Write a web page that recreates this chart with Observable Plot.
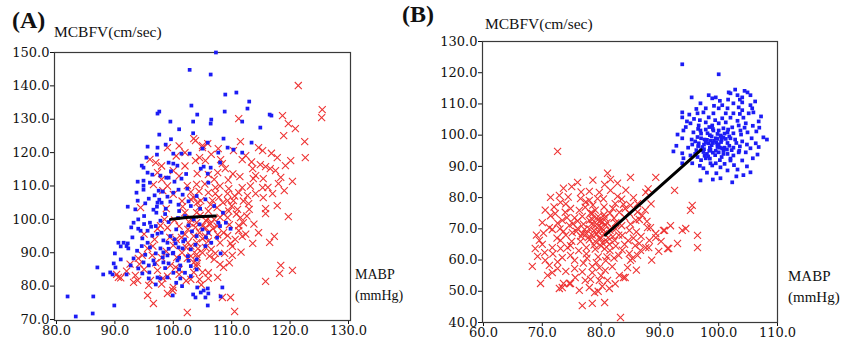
<!DOCTYPE html>
<html>
<head>
<meta charset="utf-8">
<script src="https://cdn.jsdelivr.net/npm/d3@7"></script>
<script src="https://cdn.jsdelivr.net/npm/@observablehq/plot@0.6"></script>
<style>
  html, body { margin: 0; padding: 0; background: #fff; }
  #wrap { position: relative; width: 852px; height: 349px; overflow: hidden; background: #fff; }
  #wrap > div.plot { position: absolute; top: 0; }
  #wrap svg, #wrap svg text { font-family: "DejaVu Serif", serif !important; }
  .lbl { position: absolute; font-family: "Liberation Serif", "DejaVu Serif", serif; color: #111; white-space: nowrap; line-height: 1; }
  .panel { font-weight: bold; font-size: 24px; }
</style>
</head>
<body>
<div id="wrap">
  <div class="plot" id="plotA" style="left:0px"></div>
  <div class="plot" id="plotB" style="left:430px"></div>
  <div class="lbl panel" style="left:12px; top:8px">(A)</div>
  <div class="lbl" style="left:54px; top:24px; font-size:15.5px">MCBFV(cm/sec)</div>
  <div class="lbl" style="left:355px; top:268px; font-size:14px">MABP</div>
  <div class="lbl" style="left:355px; top:289px; font-size:14px">(mmHg)</div>
  <div class="lbl panel" style="left:402px; top:2px">(B)</div>
  <div class="lbl" style="left:485px; top:16px; font-size:15.5px">MCBFV(cm/sec)</div>
  <div class="lbl" style="left:788px; top:269px; font-size:15px">MABP</div>
  <div class="lbl" style="left:788px; top:290px; font-size:15px">(mmHg)</div>
</div>
<script>
// ---------- tick values ----------
const xTicksA = [80, 90, 100, 110, 120, 130];
const yTicksA = [70, 80, 90, 100, 110, 120, 130, 140, 150];
const xTicksB = [60, 70, 80, 90, 100, 110];
const yTicksB = [40, 50, 60, 70, 80, 90, 100, 110, 120, 130];

// ---------- Panel A: [MABP, MCBFV] ----------
const blueA = [
[107.3,150],[102.8,144.8],[106.4,143.4],[103.1,134.1],[108.9,137.4],[110.8,138],[113,135.3],[112.7,133.2],[97.3,131.7],[97.6,132.3],[99.5,129.3],[104.1,131.4],[103.4,129.3],[106.5,129.9],[106.4,128.7],[108.8,132.3],[111.8,129.3],[114.9,127.5],[116.5,131.4],[116.8,131.1],
[97.6,125.4],[95.6,121.8],[97.3,121.5],[98.7,122.4],[100,119.7],[101.4,119.7],[102.8,119.7],[95.4,118.5],[108.6,124.2],[109.3,121.5],[110.3,120.9],[113.4,123],[94.6,116.1],[94.9,115.5],[99.2,117],[100,116.7],[100.7,116.1],[105.2,115.8],[106.4,115.5],[107.7,120],[108,117],[111.8,120],[105,121.2],[105.9,123],[104.7,115.2],[105.9,113.7],
[95.6,114],[96.4,113.4],[94.9,111.6],[94.9,110.1],[94.9,108.9],[93.9,111.3],[97.8,113.1],[98.8,112.5],[99.2,112.5],[100.2,111.3],[101.4,112.2],[93.7,108],[97.5,108.6],[98.2,108.3],[100,108],[100.9,108.9],[102.4,109.2],[93.9,105.6],[95.8,106.2],[97.3,105],[97.6,105.9],[99.5,105.3],[100.9,104.4],[92.2,103.8],[96.6,102.9],[97.1,102],[98.7,103.2],[106,111],[104,107],[103,104],[105.5,106],[107,104],[108.5,102],[109,99],[108,98],
[93.2,99],[94,97.2],[94.4,96.6],[90.6,93],[91,91.9],[92.2,92.8],[92.3,91.3],[94.7,94.3],[95.6,93],[95.6,96.6],[96.4,95.1],[97.3,95.7],[98.3,93.7],[97.8,91.3],[98.3,90.1],[99,89.2],[99.9,89.8],[98.2,88.6],[100.4,92.8],[100.9,91.6],[101.6,91.3],[101.7,93.4],[98.3,87.1],[99.2,86.8],[100.7,87.7],[101.2,86.2],[96.6,87.7],[94.9,87.1],[95.8,86.2],[93.2,88.3],[92.7,86.2],[89.8,86.8],[90.1,85.6],[87,85.6],[88,83.5],[89.2,84.1],[89.6,83.5],[92,83.5],[94,85.3],[94.7,83.8],[95.9,84.1],[97.3,82.6],[97.8,82.3],[99,82.6],[101.2,82.3],[95.8,82.3],
[99.5,95],[100.5,97],[101.5,96],[102,94],[100,90],[101,88.5],[102.5,89],[103,91],[99,93],[98,96],[104,95],[105,97],[106,96],[104.5,98.5],[103.5,100],[102,101],[101,102.5],[106.5,93],[107.5,94.5],[105.5,92],[104,88],[103,86],[102,84],[101,85],[96,99],[97,98],[95,101],[94,100],[93.5,103],[92,92],[91.5,93],[100.5,81],[101.5,80],[103,83],[104,85],[97,80.5],[99.9,77.2],
[96.2,97.8],[97.8,99.6],[99.2,99.2],[100.8,100.4],[98.6,101.6],[97.2,103.8],[95.2,104.8],[96.8,107.2],[99,106.8],[101.6,107.4],[102.6,105.4],[104.6,103.2],[102.6,98.2],[100.2,94],[99.2,91.2],[97,89.8],[95.2,89.4],[93.8,90.6],[93,94.6],[96,91.6],[98.6,85.4],[100,84],[102.6,87.6],[103.8,92.4],[105.6,94.6],[94.6,92],[96.8,86.6],[91,88],[90,89.8],[92.8,97.6],[95,98.6],[103.2,96.4],[98,105],[96,111],[99.6,114.4],[102.2,113.6],[97.2,119.4],[99.6,124],[103.4,125.8],[101,127],
[81.9,76.9],[86.3,76.9],[83.3,70.9],[86.2,71.8],[89.9,74.2],[104.1,79.6],[104.7,78.1],[105.2,78.7],[105.9,79.3],[106,77.8],[105.5,76.6],[103.8,76.6],[105.9,74.2],[103.4,77.5],[108.4,79.6],[108.1,76.9],[109.8,97.2],[107.7,99],[108.1,89.8]
];
const redA = [
[121.4,140.1],[125.5,132.9],[125.4,130.5],[118.7,131.1],[119.7,128.7],[120.9,127.2],[118.9,125.1],[111.2,130.2],[122.5,123.3],[122.6,118.5],[111.5,123.3],[115.3,120.6],[114.6,121.5],[117.8,118.5],[120.1,117.6],[119.2,116.1],[112.4,119.1],[111.8,117.9],[110.3,120.6],[107.7,121.2],[108.1,117.9],[108.4,116.7],[105.9,122.7],[105,121.5],[103.8,123.6],[114.9,116.4],[115.8,115.8],[116.6,115.2],[117.5,114.6],[114.1,113.1],[113.7,112.2],[115.4,112.2],[118,110.7],[115.3,109.5],[111.8,109.5],[111.2,108],[109.5,109.2],[109.3,107.7],[112.7,107.1],[114.1,107.7],[117,107.7],[119,108.6],[117.8,104.1],[115.4,106.5],[115.8,103.2],[107.2,109.5],[107.2,107.7],[106.7,105.6],[104.7,105.6],[105.5,117.6],[103.8,117.6],[108.9,115.2],[113.6,115.2],[110.3,105.6],[109.3,105.6],[112.9,104.7],
[111.5,100.5],[112,99],[111.2,98.1],[115.8,101.7],[119.7,100.8],[108.6,101.7],[109.3,100.5],[105.9,100.2],[106.4,98.7],[105.5,97.5],[106,96],[108.6,96],[109.3,95.1],[111.2,96.6],[111.8,94.9],[113.6,92.8],[116.5,93.1],[117.3,94.9],[109.8,92.8],[110.1,91.9],[108.8,89.8],[110.1,89.2],[107.2,89.8],[105.5,91.6],[104.1,86.8],[105,84.1],[108.6,85.6],[106,82.3],[118.4,86.2],[118.2,83.8],[120.4,84.7],[115.8,81.4],[108.4,76.6],[109.8,76.6],[110.5,72.4],
[97.3,97.2],[97.8,98.1],[95.6,91.3],[94.7,89.2],[94,88.3],[96.4,89.2],[100,92.2],[99.5,86.2],[100.4,85.6],[101,85],[102.4,88.3],[103.5,87.1],[104.1,88.6],[103.5,84.1],[93.5,83.2],[93.9,81.7],[96.1,81.7],[95.8,80.2],[93.2,81.1],[90.6,82.6],[90.3,83.5],[100,79.6],[99.9,78.7],[99,77.8],[95.6,77.2],[96.6,74.8],[102.4,72.1],[98.2,82.3],[97.3,84.7],
[103.5,124.2],[105,122.1],[97,117],[97.3,114],[100,114.6],[96.6,110.4],[98.2,108.6],[102.4,110.1],[104.1,113.7],[94.4,103.5],[98.8,103.2],[103.5,106.5],[104.1,105],
[103,100],[104,99],[105,98],[104.5,96],[103.5,95],[102.5,97],[105.5,95],[106,93.5],[104,93],[103,92],[102,95.5],[101,98],[102,102],[104,102],[106,102.5],[107,100],[107.5,98],[106.5,91],[105,90],[104,89.5],[103,89],[101.5,90],[102.5,93],[100.5,94],[99,97.5],[98.5,100],[107.5,103.5],[108.5,105],[110,104],[111,103],[109.5,102.5],[110.5,107],[112,105.5],[113,103],[103,106],[101.5,105.5],[100,107.5],[99,110],[98,112],[101,113],[104,110.5],[106,108],[107,112],[108,110],[104.5,118.5],[106.5,119.5],[102,120],[101,122],[99,121.5],[98,116],[96,118],[102,116],[100.5,119],[91,82.5],[92,84.5],[95,85],[97,87],[99,83],[101,83.5],[103,82],[104.5,82],[106,84],[107,88],[108,86.5],[98,88.5],[96.5,92],[104,86],
[104.6,101.2],[105.6,99.6],[106.8,97.2],[107.6,95.4],[105,94.2],[103.8,97.6],[102.8,99],[104.4,103.6],[106.4,104.4],[108,100.6],[109.6,98.4],[110.8,101.6],[112.6,101],[113.8,98.6],[114.6,96],[112.4,95.6],[110.6,94],[108,93],[106.2,89],[104.2,91.2],[102.2,91.6],[101.4,94.6],[100.2,99.8],[101.6,103.8],[103,108.2],[105.4,110.6],[107.8,106.6],[109.4,111.8],[111.4,112.8],[113.2,110],[116.2,109.6],[118.4,112.6],[120.4,111.4],[116.8,119.8],[113.4,117.2],[110.2,113.6],[107.6,114],[106,113.4],[104.4,108.4],[100.6,88.6],[98.8,90.4],[99.4,94.6],[96.8,94],[95,95.6],[94.2,86.6],[92.6,86.6],[98,80.6],[102.2,81.6],[104.8,80.4],[107.6,82.6],[109.6,87],[111.6,90.2]
];
const fitA = [[99.5,100.0],[103.5,100.7],[107.2,101.0]];

// ---------- Panel B: [MABP, MCBFV] ----------
const blueB = [
[93.8,122.7],[100,119.5],[95.4,112.1],[98.3,112.8],[98.9,111.8],[99.5,112.1],
[101.7,113.7],[102,113.4],[103.2,112.8],[104,112.1],[104.9,113.7],[105.4,112.8],
[100.6,109.6],[101.5,108.6],[102.5,110.2],[103.4,108.9],[104,110.5],
[96.9,110.2],[93.8,107.3],[93.8,105.7],[96.4,107],[97.4,107.3],[98.3,105.7],[99.1,107],
[100,108.6],[101.2,107],[102.5,107],[104,108],[105.1,107],[105.9,107.3],[105.4,109.6],[105.7,108.6],
[95.2,103.8],[96.6,103.1],[97.8,104.1],[98.9,103.1],[100,103.8],[101.2,104.1],[102.3,102.5],[103.4,103.1],[104.6,103.8],
[94,101.5],[93.8,99],
[95.7,100.9],[96.9,101.5],[98.1,100.6],[99.1,101.5],[100.3,99.9],[101.5,100.9],[102.5,100.6],[103.7,101.5],[104.9,100.9],
[96,98],[97,99],[97.5,97],[98,98.5],[98.5,96],[99,97.5],[99.5,99],[100,97],[100.5,98.5],[101,96],[98.5,100],[99.5,95],[97.5,95.5],[96.5,96.5],[98,94],[100,94.5],[101.5,97.5],[102,99],[101,100.5],[97,100.5],[99,102],[102.5,96],[96,94],[95.5,97],[100.5,93],[98.5,92.5],[97,92],[99.5,91],[101.5,94],[103,97.5],[103.5,95],[102,92.5],[104,98],[96.5,102],[100,101.5],
[97.2,96.2],[98.2,97.4],[99.2,98.2],[100.2,96],[101.2,98.8],[98.8,99.6],[97.8,101.8],[99.8,100.4],[100.8,102.2],[101.8,99.6],[102.8,98.6],[103.8,100.2],[104.4,102.4],[103.2,104.6],[102,105.6],[100.6,105.4],[99.4,104.8],[98.4,102.6],[96.4,99.4],[95.4,98.6],[94.8,96],[96.2,95.2],[97.6,93.4],[99,94.4],[100.8,95.2],[102.2,95.2],[103.6,96.4],[104.8,97],[105.6,99],[106.4,101.2],[105.8,103],[104.2,105.6],[103.6,106.8],[101.6,111.4],[100.2,111],[99.2,109.4],[97.8,108.6],[96.2,108.4],[95,106.6],[94.6,104.4],[95.8,105.2],[102.8,114.6],[104.4,114.2],[103.6,111.4],[106.2,110.8],[106.8,104.4],[107.2,106],[106.9,102.4],[96.8,90.2],[98,88],[99.6,87.8],[101,90.8],[102.6,90.4],[104.8,90],[105.8,92.6],[100.2,92],[98.6,91],[97.6,98.6],[99.8,97],[100.4,99.6],[98.4,95],[101.6,101.8],[96.8,104.8],[94.4,102.6],[108.2,98.6],[106.8,96.2],[92.8,96.6],[93,100.2],[103,86.8],[99,85.8],[104.2,87.2],
[97.4,94.6],[98.6,95.4],[99.8,96.2],[100.6,95.8],[97.8,97.8],[98.8,96.8],[99.6,97.6],[100.4,97.8],[101.4,95.4],[97,95.2],[98.2,93.2],[99.4,93.6],[100.8,94],[96.6,97.4],[98.6,98.2],[99.8,98.8],[100.8,99.2],[96.4,93],[97.8,92.6],[101.8,96.6],
[107.6,99.3],[106.3,97.4],[106.6,93.8],[105.4,95.8],[104.6,94.5],[104,91.9],
[92.3,94.8],[93.8,94.2],[94,92.6],[93.8,91],[95.2,93.5],[95.5,91],
[97.4,89.4],[98.9,90.3],[100.3,89.7],[101.5,88.7],[96.9,85.5],[100.3,86.2],[102.3,84.9],[103.2,89],[105.4,88.1],
[102,91.9],[103.4,94.5],[102.5,93.5]
];
const redB = [
[72.6,94.8],[76,84.9],[81.1,87.8],[81.6,85.8],[82.8,84.6],[85,86.5],[89.3,86.5],[92.5,82.3],[87.6,81.7],
[71.4,80.1],[72.9,80.7],[73.1,78.5],[76.5,79.7],[78,79.1],[79.4,79.7],[79.7,81.7],[81.6,82.3],
[74.8,76.5],[76.3,75.9],[72.2,74.9],[73.9,75.3],[70,72],[71.2,70.4],[71.7,69.8],[73.4,72.7],[74.6,71.1],[75.1,68.8],[76,70.1],[76.8,68.5],
[77.3,76.9],[78.5,74.9],[78,72.7],
[69.5,66.3],[71.7,64],[73.1,66.3],[68.8,63.7],[68.3,58],[69.7,52.5],[70.5,59.9],[71.2,58.3],[71.7,56],[72.6,57.3],[70.9,55.1],[73.1,63.7],[74.3,64],[74.8,61.5],[73.4,60.8],[75.5,59.9],[75.5,57.3],[75.6,54.4],[73.4,51.2],[74.6,52.5],[76.3,50.3],[77.3,53.5],[78,51.2],[78.9,49.6],[79.7,53.5],[81.1,53.5],[81.4,50.9],[83.1,55.1],[84.1,54.4],[80.6,46.4],[76.8,45.4],[78.5,46.1],[83.3,41.6],
[79.7,57.6],[80.7,56.7],[81.9,57.9],
[84.8,62.1],[85.3,60.5],[86.2,61.5],[86.5,65.3],[88.2,66.3],[87.6,64],
[89.3,67.2],[90.8,69.5],[91.3,63.7],[93,65.3],[87.9,70.4],
[85.9,72.7],[87,74.3],[84.1,76.5],[85,77.5],[86.2,78.1],[82.4,78.1],[83.1,75.3],[84,73.7],[84.8,69.5],[83.6,67.9],[82.3,66.3],
[95.5,77.5],[95.2,75.9],[94.4,70.1],[93.8,69.5],[96.4,67.9],[96.4,64],[91.5,63.7],[90.6,69.5],[89.3,68.5],
[88.4,70.4],[88.1,64],[86.7,63.1],[85,59.9],[84.5,57.6],[83.8,54.4],
[72.9,50.9],[73.6,52.5],[74.8,52.5],
[78,70],[78.5,68],[79,71],[79.5,69],[80,67],[80,70.5],[80.5,68.5],[81,66],[81,72],[81.5,69.5],[82,67.5],[79,66],[78,66.5],[77.5,68.5],[77,71.5],[78.5,73],[79.5,74],[80.5,74.5],[81.5,75],[82.5,72],[82.5,70],[83,68],[80,64.5],[79,63.5],[81.5,63],[77.5,64],[76.5,66],[76,72.5],[79,76],[80.5,77],[82,76.5],[83.5,71],[84,65],[82.5,64.5],[79.8,72.5],[80.2,65.5],[78.2,75],[76.8,74],[75.5,73.5],[74,68],[75,66],[73,70],[72.5,67],[77.5,62],[79.5,61],[81,61],[83,61.5],[77,59],[78.5,58],[80,55],[78.5,56],[79.5,50],[85.5,67],[86,69],[85,71.5],[86.5,73],[87.5,76],[88.5,78],[85.5,80],[83.5,79.5],[78,82],[75,83.5],[74,78],[72,77],[70.5,76],[69,68],[70,65],
[79.2,68.2],[80.4,69.6],[79.6,70.8],[80.8,71.2],[81.2,67.2],[79.8,66.8],[78.8,69.4],[80.2,72.2],[81.8,70.4],[78.4,71.6],[79.4,72.8],[80.6,73.6],[82.2,73.4],[81.4,65],[80.6,63.6],[78.8,64.8],[77.8,67.2],[77.2,69.8],[76.6,67.6],[75.8,69.2],[75.2,71.6],[74.2,73.6],[73.6,69.2],[72.6,71.8],[74.8,64.6],[76.2,63],[77.6,60.6],[79.2,59.2],[80.8,59.8],[82.2,60.6],[83.6,63.2],[84.6,66.2],[85.8,64.6],[86.8,67.6],[87.8,72.4],[86.2,75.4],[84.8,75],[83.8,77.8],[82.8,80.4],[80.4,79.6],[78.6,77.6],[77.4,78.6],[76.6,81.8],[74.4,80.2],[71.4,74.2],[70.2,68.6],[71.8,62],[72.6,59.4],[74,56.4],[76.8,56.2],[78.2,53.8],[80.2,51.6],[82.4,52.4],[86,56.8],[88.6,60],[89.8,62.8],[90.2,66],[91.8,71],[88,82.8],[84.2,82.4],[80.6,84.2],[78.6,85.6],[73.6,83],[70.4,62.4],[69.2,61.2]
];
const fitB = [[80.7,68.0],[97.0,95.3]];

// ---------- drawing ----------
const fmt = d3.format(".1f");
const BLUE = "#1c1cf5";
const RED = "#ee3333";
function panel(blue, red, fit, opts) {
  return Plot.plot({
    style: { fontFamily: "DejaVu Serif, serif", fontSize: "13px", color: "#111", background: "transparent", overflow: "visible" },
    width: opts.width, height: 349,
    marginLeft: opts.ml, marginRight: opts.mr, marginTop: opts.mt, marginBottom: opts.mb,
    x: { domain: opts.xd, ticks: opts.xt, tickFormat: fmt, tickSize: 4, tickPadding: 1, label: null },
    y: { domain: opts.yd, ticks: opts.yt, tickFormat: fmt, tickSize: 4, tickPadding: 1, label: null },
    marks: [
      Plot.frame({ stroke: "#3a3a3a", strokeWidth: 1.2 }),
      Plot.dot(red, { x: d => d[0], y: d => d[1], symbol: "times", r: 3.3, stroke: RED, strokeWidth: 1.1 }),
      Plot.dot(blue, { x: d => d[0], y: d => d[1], symbol: "square", r: 2.1, fill: BLUE, stroke: "none" }),
      Plot.line(fit, { x: d => d[0], y: d => d[1], stroke: "#000", strokeWidth: 3, curve: "natural" })
    ]
  });
}
document.getElementById("plotA").appendChild(panel(blueA, redA, fitA, {
  width: 400, ml: 54, mr: 50, mt: 52, mb: 29,
  xd: [79.66, 130.34], xt: xTicksA, yd: [69.7, 150], yt: yTicksA
}));
document.getElementById("plotB").appendChild(panel(blueB, redB, fitB, {
  width: 422, ml: 52, mr: 75, mt: 41, mb: 27,
  xd: [59.83, 110], xt: xTicksB, yd: [40, 130], yt: yTicksB
}));
</script>
</body>
</html>
